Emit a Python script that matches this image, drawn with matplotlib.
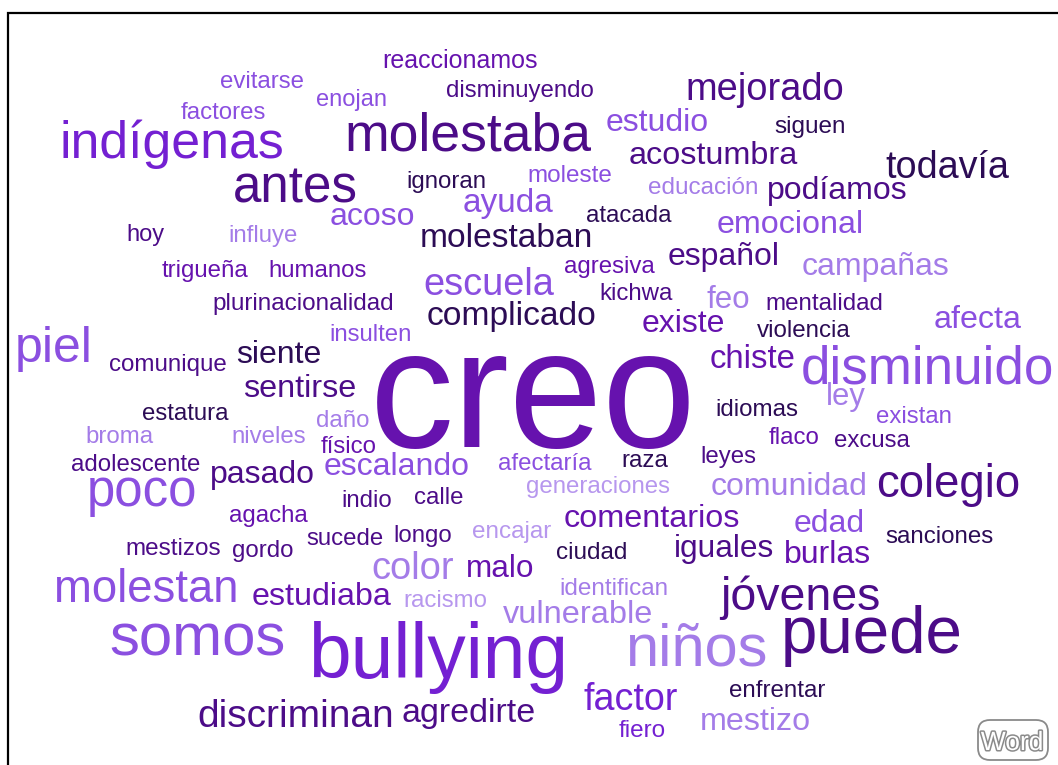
import matplotlib
matplotlib.use("Agg")
import matplotlib.pyplot as plt
from matplotlib.patches import FancyBboxPatch
import matplotlib.patheffects as pe
from matplotlib import font_manager, ft2font

# ---------------- data ----------------
words = ["reaccionamos", "evitarse", "enojan", "factores", "indígenas", "molestaba",
         "disminuyendo", "mejorado", "estudio", "siguen", "acostumbra", "todavía",
         "antes", "ignoran", "moleste", "educación", "podíamos", "ayuda", "atacada",
         "acoso", "emocional", "hoy", "influye", "molestaban", "español", "campañas",
         "trigueña", "humanos", "escuela", "agresiva", "plurinacionalidad", "kichwa",
         "feo", "mentalidad", "piel", "insulten", "complicado", "existe", "violencia",
         "afecta", "comunique", "siente", "chiste", "disminuido", "sentirse", "creo",
         "ley", "estatura", "idiomas", "existan", "daño", "broma", "niveles", "físico",
         "flaco", "excusa", "adolescente", "pasado", "escalando", "afectaría", "raza",
         "leyes", "poco", "indio", "calle", "generaciones", "comunidad", "colegio",
         "agacha", "sucede", "longo", "encajar", "comentarios", "edad", "sanciones",
         "mestizos", "gordo", "ciudad", "iguales", "burlas", "color", "malo", "molestan",
         "estudiaba", "racismo", "identifican", "jóvenes", "vulnerable", "somos",
         "bullying", "niños", "puede", "enfrentar", "discriminan", "agredirte", "factor",
         "fiero", "mestizo"]

# word weight expressed as font size (pt)
sizes = [18.0, 17.3, 17.0, 17.3, 37.4, 38.5,
         17.3, 27.4, 23.0, 17.5, 23.3, 27.2,
         36.8, 17.3, 17.5, 17.5, 23.0, 24.0, 17.3,
         23.0, 23.2, 17.0, 17.3, 24.1, 23.0, 23.0,
         17.3, 17.3, 27.4, 17.3, 17.5, 17.3,
         22.5, 17.4, 36.0, 17.3, 24.2, 23.0, 17.4,
         23.2, 17.4, 23.0, 23.7, 38.2, 23.3, 121.0,
         22.3, 17.3, 17.4, 17.3, 17.3, 17.3, 17.3, 17.3,
         17.3, 17.3, 17.3, 23.0, 23.0, 17.3, 17.3,
         17.3, 36.7, 17.3, 17.3, 17.3, 23.0, 32.8,
         17.3, 17.3, 17.3, 17.5, 23.3, 23.0, 17.4,
         17.5, 17.3, 17.5, 22.8, 23.0, 27.4, 22.7, 32.8,
         23.2, 17.3, 17.5, 33.5, 23.4, 43.2,
         55.2, 42.9, 47.2, 17.4, 28.0, 24.5, 27.1,
         17.5, 23.2]

# colour tone index per word (0 = darkest ... 6 = lightest)
tones = [2, 4, 4, 4, 3, 1,
         1, 1, 4, 0, 1, 0,
         1, 0, 4, 5, 1, 4, 0,
         4, 4, 1, 5, 0, 1, 5,
         2, 2, 4, 2, 1, 1,
         5, 1, 4, 4, 0, 2, 0,
         4, 1, 0, 2, 4, 1, 2,
         5, 0, 0, 4, 5, 5, 5, 2,
         2, 1, 1, 1, 4, 4, 0,
         1, 4, 1, 1, 6, 5, 1,
         2, 1, 1, 6, 2, 4, 0,
         1, 1, 0, 1, 2, 5, 2, 4,
         2, 6, 5, 1, 5, 4,
         3, 5, 1, 0, 1, 1, 3,
         3, 5]

palette = ["#2c0c55", "#4c0c88", "#6612ae", "#7420d2", "#8b4fe0", "#a47ce8", "#b797ee"]

# layout (pixel positions: ink left edge, baseline)
x_left = [384, 221, 317, 181, 63, 348,
          447, 688, 607, 775, 630, 886,
          235, 408, 529, 649, 769, 464, 587,
          331, 718, 128, 230, 422, 669, 803,
          162, 270, 425, 565, 214, 601,
          707, 767, 18, 331, 428, 643, 757,
          935, 110, 237, 711, 803, 244, 377,
          828, 143, 717, 877, 317, 87, 233, 321,
          769, 835, 72, 212, 325, 499, 623,
          702, 90, 343, 415, 527, 712, 878,
          230, 307, 395, 473, 565, 795, 886,
          127, 233, 557, 676, 786, 373, 468, 57,
          253, 405, 561, 719, 503, 111,
          313, 629, 785, 730, 199, 403, 584,
          619, 702]
y_base = [68, 88, 106, 119, 158, 150,
          97, 100, 131, 133, 164, 178,
          202, 188, 182, 194, 199, 212, 222,
          225, 233, 241, 242, 247, 265, 275,
          277, 277, 295, 273, 310, 300,
          308, 310, 362, 341, 325, 332, 337,
          328, 371, 363, 368, 383, 397, 447,
          405, 420, 416, 423, 427, 443, 443, 453,
          444, 447, 471, 483, 475, 470, 467,
          463, 506, 507, 504, 493, 495, 497,
          522, 545, 542, 538, 527, 532, 543,
          555, 557, 559, 557, 563, 579, 577, 602,
          605, 607, 595, 610, 623, 655,
          678, 665, 653, 697, 727, 722, 710,
          737, 730]

W, H = 1058, 765
FONT = "Liberation Sans"

fig = plt.figure(figsize=(W / 100, H / 100), dpi=100)
ax = fig.add_axes([0, 0, 1, 1])
ax.set_xlim(0, W)
ax.set_ylim(H, 0)
ax.axis("off")

try:
    _font_path = font_manager.findfont(font_manager.FontProperties(family=FONT))
    _ft = ft2font.FT2Font(_font_path)
except Exception:
    _ft = None


def ink_offset(word, size):
    """left-side bearing of the rendered string in pixels"""
    if _ft is None:
        return 0.05 * size * 100 / 72
    try:
        _ft.set_size(size, 100)
        _ft.set_text(word, 0.0)
        xo, _ = _ft.get_bitmap_offset()
        return xo / 64.0
    except Exception:
        return 0.05 * size * 100 / 72


for w, s, t, x, y in zip(words, sizes, tones, x_left, y_base):
    ax.text(x - ink_offset(w, s), y, w, fontsize=s, color=palette[t],
            family=FONT, ha="left", va="baseline")

# frame (top and left edges visible)
ax.plot([8, 8, W + 5], [H + 5, 12.5, 12.5], color="black", lw=1.6,
        solid_joinstyle="miter", clip_on=False)

# "Word" badge
badge = FancyBboxPatch((978, 720), 70, 40, boxstyle="round,pad=0,rounding_size=12",
                       facecolor="white", edgecolor="#8a8a8a", lw=1.3)
ax.add_patch(badge)
ax.text(1012, 750, "Word", fontsize=19, color="white", family=FONT,
        ha="center", va="baseline",
        path_effects=[pe.withStroke(linewidth=2.2, foreground="#8a8a8a")])

fig.savefig("out.png", dpi=100)
